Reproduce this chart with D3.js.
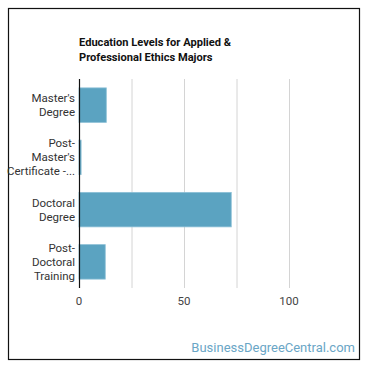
<!DOCTYPE html>
<html>
<head>
<meta charset="utf-8">
<script src="https://cdn.jsdelivr.net/npm/d3@7"></script>
<style>
  body { margin: 0; background: #fff; }
  svg { font-family: Roboto, "Noto Sans", sans-serif; }
</style>
</head>
<body>
<svg width="370" height="370"></svg>
<script>
// Data
var categories = [
  ["Master's", "Degree"],
  ["Post-", "Master's", "Certificate -..."],
  ["Doctoral", "Degree"],
  ["Post-", "Doctoral", "Training"]
];
var values = [13, 1, 72.5, 12.5];
var xTicks = [0, 50, 100];
var gridTicks = [25, 50, 75, 100];

var svg = d3.select("svg");

// frame
svg.append("rect")
  .attr("x", 8.5).attr("y", 8.5)
  .attr("width", 351).attr("height", 351)
  .attr("fill", "#fff")
  .attr("stroke", "#111")
  .attr("stroke-width", 1.2);

var margin = { left: 79, top: 79, bottom: 288 };

var x = d3.scaleLinear().domain([0, 125]).range([margin.left, 341.5]);
var y = d3.scaleBand()
  .domain(d3.range(categories.length))
  .range([margin.top, margin.bottom])
  .paddingInner(0.34)
  .paddingOuter(0.17);

// title
svg.append("text")
  .attr("x", 79).attr("y", 46)
  .attr("font-size", 11.1).attr("font-weight", "bold").attr("fill", "#111")
  .selectAll("tspan")
  .data(["Education Levels for Applied &", "Professional Ethics Majors"])
  .enter().append("tspan")
  .attr("x", 79)
  .attr("dy", function (d, i) { return i ? 14.5 : 0; })
  .text(function (d) { return d; });

// gridlines
svg.append("g")
  .selectAll("line")
  .data(gridTicks)
  .enter().append("line")
  .attr("x1", function (d) { return x(d) + 0.5; })
  .attr("x2", function (d) { return x(d) + 0.5; })
  .attr("y1", margin.top).attr("y2", margin.bottom)
  .attr("stroke", "#d4d4d4").attr("stroke-width", 1);

// bars
svg.append("g")
  .selectAll("rect")
  .data(values)
  .enter().append("rect")
  .attr("x", x(0))
  .attr("y", function (d, i) { return y(i); })
  .attr("width", function (d) { return x(d) - x(0); })
  .attr("height", y.bandwidth())
  .attr("fill", "#5ba3c1")
  .attr("stroke", "#8cc0d6")
  .attr("stroke-width", 0.8);

// y axis line
svg.append("line")
  .attr("x1", x(0) + 0.5).attr("x2", x(0) + 0.5)
  .attr("y1", margin.top).attr("y2", margin.bottom)
  .attr("stroke", "#111").attr("stroke-width", 1.2);

// category labels
var lineH = 14;
svg.append("g")
  .selectAll("text")
  .data(categories)
  .enter().append("text")
  .attr("text-anchor", "end")
  .attr("font-size", 11.5)
  .attr("fill", "#333")
  .attr("y", function (d, i) {
    return y(i) + y.bandwidth() / 2 - (d.length - 1) * lineH / 2 + 4;
  })
  .each(function (d) {
    var t = d3.select(this);
    var y0 = +t.attr("y");
    d.forEach(function (s, j) {
      t.append("tspan").attr("x", 75).attr("y", y0 + j * lineH).text(s);
    });
  });

// x tick labels
svg.append("g")
  .selectAll("text")
  .data(xTicks)
  .enter().append("text")
  .attr("x", function (d) { return x(d); })
  .attr("y", 305)
  .attr("text-anchor", "middle")
  .attr("font-size", 11.5)
  .attr("fill", "#444")
  .text(function (d) { return d; });

// watermark
svg.append("text")
  .attr("x", 355).attr("y", 352)
  .attr("text-anchor", "end")
  .attr("font-size", 13)
  .attr("fill", "#6aa6c6")
  .text("BusinessDegreeCentral.com");
</script>
</body>
</html>
